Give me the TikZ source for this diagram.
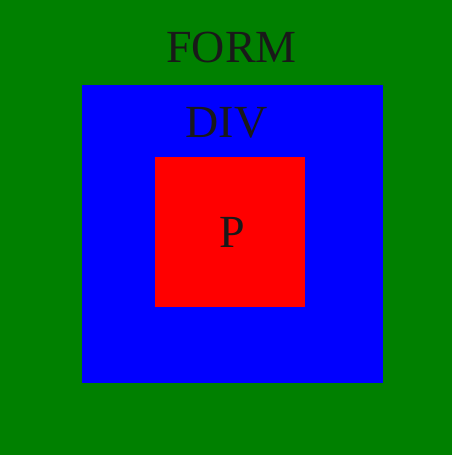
\documentclass[tikz,border=0pt]{standalone}
\usepackage{fontspec}
\setmainfont{Liberation Serif}
\definecolor{formgreen}{RGB}{0,128,0}
\definecolor{divblue}{RGB}{0,0,255}
\definecolor{pred}{RGB}{255,0,0}
\begin{document}
\begin{tikzpicture}[x=1pt,y=-1pt,
  lbl/.style={anchor=base,inner sep=0pt,font=\fontsize{46}{46}\selectfont,text=black!90}]
\fill[formgreen] (0,0) rectangle (452,455);
\useasboundingbox (0,0) rectangle (452,455);
\fill[divblue] (82,85) rectangle (383,383);
\fill[pred] (155,157) rectangle (305,307);
\node[lbl] (form) at (231.5,62) {FORM};
\node[lbl] (div) at (226.5,137) {DIV};
\node[lbl] (p) at (232.5,247) {P};
\end{tikzpicture}
\end{document}
